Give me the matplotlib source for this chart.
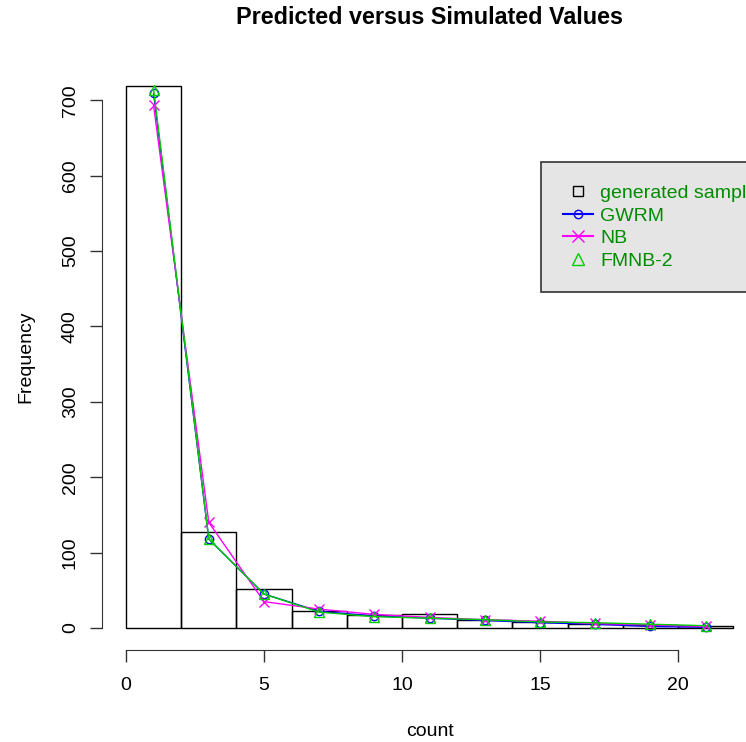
import matplotlib
matplotlib.use("Agg")
import matplotlib.pyplot as plt
from matplotlib.lines import Line2D

plt.rcParams["font.family"] = ["Liberation Sans", "DejaVu Sans"]

# histogram of the generated sample (bin edges and counts)
bin_edges = [0, 2, 4, 6, 8, 10, 12, 14, 16, 18, 20, 22]
counts = [719, 127, 52, 22, 17, 18, 11, 8, 5, 4, 2]

# predicted frequencies at bin midpoints
mids = [1, 3, 5, 7, 9, 11, 13, 15, 17, 19, 21]
gwrm = [709, 118, 45, 22, 16, 13, 10, 7, 5, 2, 1]
nb = [693, 140, 35, 25, 18, 14, 11, 9, 6, 4, 2]
fmnb2 = [714, 118, 45, 21, 15, 13, 11, 8, 7, 5, 3]

fig = plt.figure(figsize=(7.46, 7.42), dpi=100)
W, H = 746, 742
# plot region in pixels (R style, 4% padding on both axes)
x0, x1 = 101.7, 757.5
y_top, y_bot = 63.4, 649.7
ax = fig.add_axes([x0 / W, 1 - y_bot / H, (x1 - x0) / W, (y_bot - y_top) / H])

widths = [bin_edges[i + 1] - bin_edges[i] for i in range(len(counts))]
ax.bar(bin_edges[:-1], counts, width=widths, align="edge", facecolor="none",
       edgecolor="black", linewidth=1.0)

ax.plot(mids, gwrm, color="blue", linewidth=1.0, marker="o", markersize=6,
        markerfacecolor="none", markeredgewidth=1.0)
ax.plot(mids, nb, color="magenta", linewidth=1.0, marker="x", markersize=7,
        markeredgewidth=1.0)
ax.plot(mids, fmnb2, color="#00CD00", linewidth=1.0, marker="^", markersize=7,
        markerfacecolor="none", markeredgewidth=1.0)

ax.set_xlim(-0.88, 22.88)
ax.set_ylim(-28.8, 748.8)
ax.spines["top"].set_visible(False)
ax.spines["right"].set_visible(False)
ax.spines["left"].set_bounds(0, 700)
ax.spines["bottom"].set_bounds(0, 20)
ax.set_xticks([0, 5, 10, 15, 20])
ax.set_yticks(range(0, 701, 100))
ax.tick_params(direction="out", length=8.5, width=1.0, labelsize=14,
               colors="#333333", labelcolor="black")
ax.tick_params(axis="x", pad=11)
ax.tick_params(axis="y", pad=8)
for lbl in ax.get_yticklabels():
    lbl.set_rotation(90)
    lbl.set_va("center")
for sp in ("left", "bottom"):
    ax.spines[sp].set_color("#333333")
ax.set_xlabel("count", fontsize=14, labelpad=21)
ax.set_ylabel("Frequency", fontsize=14, labelpad=20)
# R centres the title over the plot region, not the figure
fig.suptitle("Predicted versus Simulated Values", fontsize=16.8,
             fontweight="bold", x=(x0 + x1) / 2 / W, y=1 - 18 / H,
             va="center")

handles = [
    Line2D([], [], color="black", marker="s", linestyle="none",
           markerfacecolor="none", markersize=7),
    Line2D([], [], color="blue", marker="o", markerfacecolor="none", markersize=6),
    Line2D([], [], color="magenta", marker="x", markersize=8),
    Line2D([], [], color="#00CD00", marker="^", linestyle="none",
           markerfacecolor="none", markersize=8),
]
names = ["generated sample", "GWRM", "NB", "FMNB-2"]
leg = fig.legend(handles, names, loc="upper left",
                 bbox_to_anchor=(541 / W, 1 - 162 / H), borderaxespad=0,
                 fontsize=14, facecolor="#E5E5E5", edgecolor="#333333",
                 fancybox=False, framealpha=1, labelcolor="#008B00",
                 handlelength=1.5, borderpad=1.15, labelspacing=0.26,
                 handletextpad=0.4)
leg.get_frame().set_linewidth(1.2)

fig.savefig("out.png", dpi=100)
